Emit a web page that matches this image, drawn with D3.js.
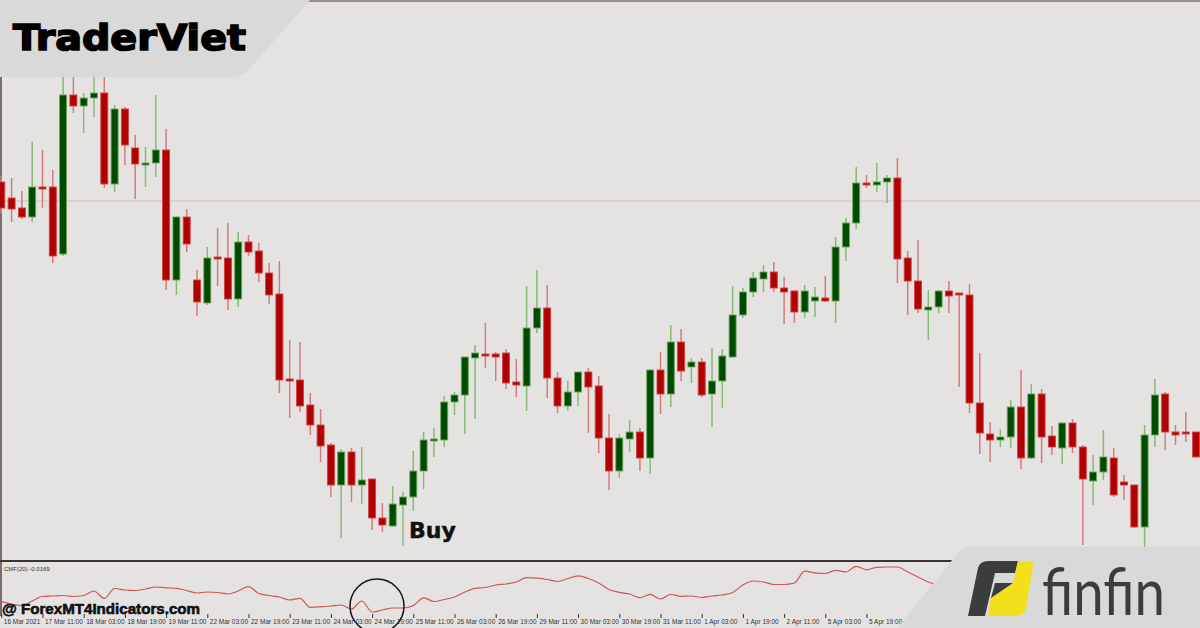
<!DOCTYPE html>
<html><head><meta charset="utf-8">
<script src="https://cdn.jsdelivr.net/npm/d3@7/dist/d3.min.js"></script>
<style>html,body{margin:0;padding:0;background:#e5e3e1;}svg{display:block}</style>
</head><body>
<svg id="c" width="1200" height="628"></svg>
<script>
// H4 candles, 16 Mar 2021 -> 5 Apr 2021
const open  = [1.3818,1.3802,1.3792,1.3783,1.3813,1.3813,1.3746,1.3905,1.3894,1.3902,1.3907,1.3816,1.3891,1.3852,1.3835,1.3837,1.3850,1.3720,1.3783,1.3720,
1.3697,1.3743,1.3742,1.3701,1.3758,1.3749,1.3727,1.3706,1.3621,1.3620,1.3595,1.3575,1.3555,1.3515,1.3548,1.3515,1.3521,1.3482,1.3474,1.3495,
1.3503,1.3529,1.3559,1.3560,1.3598,1.3605,1.3642,1.3646,1.3646,1.3647,1.3618,1.3614,1.3672,1.3692,1.3622,1.3594,1.3608,1.3628,1.3614,1.3562,
1.3529,1.3561,1.3568,1.3542,1.3630,1.3606,1.3658,1.3633,1.3638,1.3606,1.3619,1.3643,1.3685,1.3708,1.3721,1.3728,1.3712,1.3709,1.3688,1.3699,
1.3702,1.3699,1.3753,1.3777,1.3817,1.3815,1.3818,1.3822,1.3742,1.3719,1.3690,1.3693,1.3709,1.3707,1.3705,1.3597,1.3566,1.3560,1.3563,1.3593,
1.3542,1.3606,1.3564,1.3552,1.3577,1.3553,1.3519,1.3528,1.3542,1.3518,1.3515,1.3473,1.3565,1.3606,1.3568,1.3568,1.3568];
const high  = [1.3824,1.3822,1.3809,1.3858,1.3850,1.3830,1.3930,1.3930,1.3907,1.3930,1.3930,1.3895,1.3893,1.3865,1.3853,1.3905,1.3871,1.3784,1.3791,1.3730,
1.3753,1.3772,1.3777,1.3768,1.3765,1.3757,1.3737,1.3739,1.3660,1.3658,1.3607,1.3591,1.3557,1.3551,1.3552,1.3553,1.3521,1.3497,1.3514,1.3508,
1.3549,1.3568,1.3572,1.3604,1.3608,1.3643,1.3655,1.3677,1.3648,1.3651,1.3641,1.3714,1.3730,1.3715,1.3628,1.3619,1.3628,1.3632,1.3624,1.3586,
1.3566,1.3580,1.3572,1.3631,1.3648,1.3675,1.3671,1.3642,1.3642,1.3652,1.3651,1.3714,1.3712,1.3728,1.3735,1.3738,1.3723,1.3710,1.3715,1.3713,
1.3724,1.3763,1.3782,1.3833,1.3825,1.3837,1.3825,1.3842,1.3749,1.3760,1.3710,1.3710,1.3719,1.3707,1.3716,1.3647,1.3578,1.3571,1.3600,1.3630,
1.3616,1.3611,1.3574,1.3578,1.3581,1.3555,1.3545,1.3570,1.3552,1.3525,1.3515,1.3575,1.3621,1.3608,1.3575,1.3588,1.3568];
const low   = [1.3786,1.3778,1.3781,1.3778,1.3792,1.3737,1.3744,1.3887,1.3867,1.3883,1.3812,1.3808,1.3835,1.3801,1.3813,1.3823,1.3710,1.3705,1.3748,1.3684,
1.3695,1.3714,1.3690,1.3693,1.3744,1.3718,1.3696,1.3607,1.3582,1.3588,1.3565,1.3538,1.3503,1.3462,1.3498,1.3496,1.3470,1.3468,1.3473,1.3454,
1.3489,1.3511,1.3543,1.3553,1.3585,1.3566,1.3581,1.3632,1.3619,1.3611,1.3603,1.3589,1.3667,1.3602,1.3587,1.3589,1.3594,1.3567,1.3547,1.3510,
1.3522,1.3548,1.3529,1.3526,1.3586,1.3593,1.3619,1.3617,1.3603,1.3573,1.3592,1.3642,1.3682,1.3703,1.3708,1.3708,1.3676,1.3677,1.3682,1.3683,
1.3698,1.3677,1.3739,1.3771,1.3812,1.3808,1.3797,1.3717,1.3685,1.3687,1.3660,1.3687,1.3687,1.3613,1.3587,1.3546,1.3538,1.3553,1.3552,1.3531,
1.3541,1.3537,1.3545,1.3536,1.3547,1.3455,1.3495,1.3520,1.3503,1.3500,1.3472,1.3453,1.3553,1.3550,1.3555,1.3558,1.3543];
const close = [1.3792,1.3791,1.3783,1.3813,1.3811,1.3744,1.3905,1.3894,1.3902,1.3907,1.3816,1.3891,1.3855,1.3836,1.3837,1.3850,1.3720,1.3783,1.3756,1.3698,
1.3742,1.3741,1.3701,1.3758,1.3748,1.3727,1.3705,1.3620,1.3619,1.3594,1.3575,1.3554,1.3515,1.3548,1.3515,1.3520,1.3482,1.3475,1.3496,1.3503,
1.3529,1.3560,1.3561,1.3598,1.3605,1.3643,1.3647,1.3645,1.3643,1.3617,1.3615,1.3672,1.3692,1.3622,1.3594,1.3608,1.3628,1.3613,1.3562,1.3529,
1.3562,1.3568,1.3542,1.3630,1.3606,1.3658,1.3629,1.3638,1.3605,1.3619,1.3644,1.3685,1.3708,1.3722,1.3728,1.3712,1.3708,1.3688,1.3709,1.3703,
1.3699,1.3753,1.3777,1.3817,1.3815,1.3818,1.3822,1.3741,1.3719,1.3691,1.3693,1.3709,1.3704,1.3705,1.3597,1.3567,1.3560,1.3563,1.3593,1.3542,
1.3606,1.3563,1.3553,1.3577,1.3553,1.3521,1.3528,1.3543,1.3505,1.3515,1.3473,1.3565,1.3605,1.3568,1.3565,1.3567,1.3543];
// Chaikin Money Flow (20)
const cmf = [-0.117,-0.14,-0.157,-0.11,-0.065,-0.06,-0.055,-0.065,-0.055,-0.01,-0.085,0.015,0.0,-0.005,0.01,0.03,0.022,0.017,-0.005,-0.03,
-0.02,-0.025,-0.04,-0.01,0.033,-0.035,-0.055,-0.07,-0.10,-0.083,-0.173,-0.168,-0.16,-0.15,-0.19,-0.11,-0.22,-0.20,-0.18,-0.18,
-0.156,-0.078,-0.115,-0.095,-0.07,-0.02,0.017,0.025,0.05,0.06,0.08,0.123,0.118,0.105,0.085,0.115,0.142,0.115,0.07,0.005,
-0.023,-0.04,-0.077,-0.043,-0.09,-0.045,-0.063,-0.06,-0.075,-0.06,-0.05,-0.025,0.05,0.09,0.08,0.055,0.055,0.07,0.188,0.172,
0.165,0.197,0.18,0.237,0.202,0.227,0.23,0.23,0.18,0.13,0.08,0.05,0.02];
const tickIndex = [0,4,8,12,16,20,24,28,32,36,40,44,48,52,56,60,64,68,72,76,80,84];
const tickLabels = ["16 Mar 2021","17 Mar 11:00","18 Mar 03:00","18 Mar 19:00","19 Mar 11:00","22 Mar 03:00","22 Mar 19:00","23 Mar 11:00",
"24 Mar 03:00","24 Mar 19:00","25 Mar 11:00","26 Mar 03:00","26 Mar 19:00","29 Mar 11:00","30 Mar 03:00","30 Mar 19:00","31 Mar 11:00",
"1 Apr 03:00","1 Apr 19:00","2 Apr 11:00","5 Apr 03:00","5 Apr 19:00"];
const levelPrice = 1.3799;
const cmfLabel = "CMF(20) -0.0169";
const buyIndex = 39;

const svg = d3.select("#c");
const n = open.length;
const x = d3.scaleLinear().domain([0, n-1]).range([1.3, 1196.1]);
const y = d3.scaleLinear().domain([1.3372, 1.4000]).range([628, 0]);
const yc = d3.scaleLinear().domain([-0.26, 0.28]).range([616, 562]);

svg.append("rect").attr("width",1200).attr("height",628).attr("fill","#e5e3e1");

// level line
svg.append("line").attr("x1",0).attr("x2",1200).attr("y1",y(levelPrice)).attr("y2",y(levelPrice))
  .attr("stroke","#d6b9b9").attr("stroke-width",1);

// borders
svg.append("line").attr("x1",0).attr("x2",1200).attr("y1",1).attr("y2",1).attr("stroke","#9c8e8c").attr("stroke-width",2);
svg.append("line").attr("x1",1).attr("x2",1).attr("y1",0).attr("y2",616).attr("stroke","#5a5250").attr("stroke-width",1.6);

// candles
const idx = d3.range(n);
const bull = i => close[i] >= open[i];
const g = svg.append("g");
g.selectAll("line.w").data(idx).join("line").attr("class","w")
  .attr("x1",i=>x(i)).attr("x2",i=>x(i))
  .attr("y1",i=>y(high[i])).attr("y2",i=>y(low[i]))
  .attr("stroke",i=>bull(i)?"#86bb73":"#d47c7c").attr("stroke-width",1.5);
g.selectAll("rect.b").data(idx).join("rect").attr("class","b")
  .attr("x",i=>x(i)-3.5).attr("width",7)
  .attr("y",i=>y(Math.max(open[i],close[i])))
  .attr("height",i=>Math.max(2, y(Math.min(open[i],close[i]))-y(Math.max(open[i],close[i]))))
  .attr("fill",i=>bull(i)?"#014a02":"#b10203")
  .attr("stroke",i=>bull(i)?"#6fa95c":"#cf4545").attr("stroke-width",0.9);

// indicator separator
svg.append("line").attr("x1",0).attr("x2",1200).attr("y1",561).attr("y2",561).attr("stroke","#3a3533").attr("stroke-width",2);
svg.append("text").attr("x",4).attr("y",571).attr("font-family","Liberation Sans, Arial, sans-serif")
  .attr("font-size",6).attr("fill","#333").text(cmfLabel);

// CMF line
svg.append("path").datum(cmf).attr("fill","none").attr("stroke","#cf5656").attr("stroke-width",1.2)
  .attr("d", d3.line().curve(d3.curveMonotoneX).x((d,i)=>x(i)).y(d=>yc(d)));

// time axis
const ax = svg.append("g").attr("transform","translate(0,614)")
  .call(d3.axisBottom(x).tickValues(tickIndex).tickFormat((d,i)=>tickLabels[i]).tickSize(4).tickPadding(1));
ax.select(".domain").remove();
ax.selectAll("line").attr("stroke","#333");
ax.selectAll("text").attr("text-anchor","start").attr("dx",2).attr("font-size",6.5)
  .attr("font-family","Liberation Sans, Arial, sans-serif").attr("fill","#333");

// watermark
svg.append("text").attr("x",2).attr("y",614).attr("font-family","Liberation Sans, Arial, sans-serif")
  .attr("font-weight","bold").attr("font-size",15).attr("fill","#111").attr("stroke","#111").attr("stroke-width",0.6)
  .attr("textLength",198).attr("lengthAdjust","spacingAndGlyphs").text("@ ForexMT4Indicators.com");

// circle + Buy
svg.append("circle").attr("cx",377).attr("cy",606).attr("r",27).attr("fill","none").attr("stroke","#151515").attr("stroke-width",1.5);
svg.append("text").attr("x",x(buyIndex)+6).attr("y",538).attr("font-family","DejaVu Sans, sans-serif")
  .attr("font-weight","bold").attr("font-size",22).attr("fill","#111").attr("stroke","#111").attr("stroke-width",0.5).text("Buy");

// TraderViet badge
svg.append("path").attr("d","M0,0 H310 L251,67 Q244,77 232,77 H0 Z").attr("fill","#d9d9d9");
svg.append("text").attr("x",13).attr("y",50).attr("font-family","DejaVu Sans, sans-serif").attr("font-weight","bold")
  .attr("font-size",35).attr("fill","#000").attr("stroke","#000").attr("stroke-width",1.6)
  .attr("textLength",233).attr("lengthAdjust","spacingAndGlyphs").text("TraderViet");

// finfin badge
svg.append("path").attr("d","M897,628 L957,554 Q962,547 971,547 H1200 V628 Z").attr("fill","#d9d9d9");
svg.append("path").attr("d","M968,616 L978,568 Q980,561 988,561 L1018,561 L1015,573 L995,573 L985,616 Z").attr("fill","#3b3c3e");
svg.append("path").attr("d","M1018,561 L1034,561 L1026,608 Q1024,616 1015,616 L988,616 L991,598 L1013,583 Z").attr("fill","#f3df1c");
svg.append("path").attr("d","M995,583 L1013,583 L991,598 Z").attr("fill","#3b3c3e");
svg.append("text").attr("x",1042).attr("y",615).attr("font-family","Lato, Open Sans, sans-serif")
  .attr("font-size",66).attr("fill","#3b3c3e").attr("textLength",123).attr("lengthAdjust","spacingAndGlyphs").text("finfin");
</script>
</body></html>
